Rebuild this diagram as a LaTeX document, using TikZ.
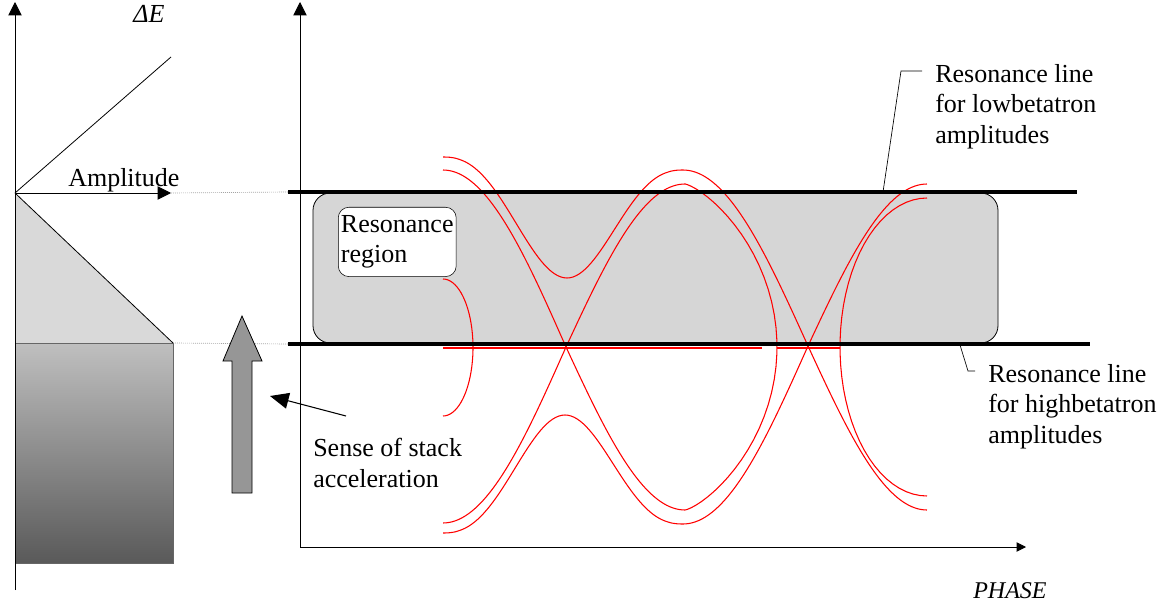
\documentclass[tikz,border=0pt]{standalone}
\usepackage{fontspec}
\setmainfont{Liberation Serif}
\usetikzlibrary{arrows.meta,positioning,calc}

\begin{document}
\begin{tikzpicture}[x=0.75pt,y=-0.75pt,
    font=\fontsize{19.5}{23}\selectfont,
    axis/.style={line width=0.7pt, -{Triangle[length=10pt,width=10pt]}},
    guide/.style={densely dotted, black!55, line width=0.5pt},
    resline/.style={line width=3pt},
    orbit/.style={red, line width=0.8pt},
    label/.style={align=left, inner sep=0pt, anchor=north west},
    regionbox/.style={draw, rounded corners=8pt, fill=white, align=left,
      inner xsep=2pt, minimum height=52pt, anchor=north west}]
  \useasboundingbox (0,0) rectangle (1175,606);

  % Energy side
  \coordinate (ampO) at (15,193);
  \coordinate (ampEnd) at (171,193);
  \coordinate (diagEnd) at (171,57);
  \coordinate (triB) at (173,343);
  \coordinate (triL) at (15,343);
  \coordinate (stackBot) at (173,563);
  \fill[black!15] (ampO) -- (triB) -- (triL) -- cycle;
  \shade[top color=black!25, bottom color=black!65] (triL) rectangle (stackBot);
  \draw[black!60, line width=0.6pt] (triL) rectangle (stackBot);
  \draw[line width=0.6pt] (ampO) -- (triB);
  \draw[line width=0.6pt] (ampO) -- (diagEnd);

  % Axes
  \coordinate (eBot) at (15,590);
  \coordinate (eTop) at (15,2);
  \coordinate (phO) at (300,547);
  \coordinate (phTop) at (300,2);
  \coordinate (phEnd) at (1026,547);
  \draw[axis] (eBot) -- (eTop);
  \draw[axis] (ampO) -- (ampEnd);
  \draw[axis] (phO) -- (phTop);
  \draw[line width=0.7pt, -{Triangle[length=7pt,width=7pt]}] (phO) -- (phEnd);

  % Resonance band
  \coordinate (bandNW) at (313,193);
  \coordinate (bandSE) at (998,343);
  \draw[fill=black!16, rounded corners=13pt, line width=0.6pt] (bandNW) rectangle (bandSE);
  \node[regionbox] (region) at (338,207) {Resonance\\region};

  % Orbits
  \begin{scope}[orbit, samples=40, variable=\t]
    \draw plot[domain=0:1] ({443+123*\t},{347-177*cos(90*\t)})
      -- plot[domain=0:1] ({566+119*\t},{347+163*sin(90*\t)})
      -- plot[domain=0:180] ({685+92*sin(\t)*sqrt(abs(sin(\t)))},{347+163*cos(\t)})
      -- plot[domain=0:1] ({685-119*\t},{347-163*cos(90*\t)})
      -- plot[domain=0:1] ({566-123*\t},{347+176*sin(90*\t)});
    \draw plot[domain=0.001:1] ({443+124*\t},{217.5-60.5*cos(180*\t^1.2)})
      -- plot[domain=0:0.999] ({567+116*\t},{224+54*cos(180*(1-(1-\t)^1.2))})
      -- plot[domain=0:1] ({683+125*\t},{346-176*cos(90*\t)})
      -- plot[domain=0:1] ({808+119*\t},{346+164*sin(90*\t)});
    \draw plot[domain=0.001:1] ({443+122*\t},{474+59*cos(180*\t^1.2)})
      -- plot[domain=0:0.999] ({565+118*\t},{469.5-54.5*cos(180*(1-(1-\t)^1.2))})
      -- plot[domain=0:1] ({683+125*\t},{346+178*cos(90*\t)})
      -- plot[domain=0:1] ({808+119*\t},{346-162*sin(90*\t)});
    \draw plot[domain=0:180] ({443+30*sin(\t)},{347.5-68.5*cos(\t)});
    \draw plot[domain=0:180] ({927-87*sin(\t)},{347-149*cos(\t)});
    \draw (443,348) -- (762,348);
    \draw (777,348) -- (840,348);
  \end{scope}

  % Resonance lines
  \coordinate (lowL) at (288,192);
  \coordinate (lowR) at (1077,192);
  \coordinate (highL) at (288,344);
  \coordinate (highR) at (1090,344);
  \draw[resline] (lowL) -- (lowR);
  \draw[resline] (highL) -- (highR);
  \draw[guide] (ampEnd) -- (lowL);
  \draw[guide] (triB) -- (highL);

  % Stack acceleration arrow
  \draw[fill=black!41, line width=0.6pt] (232,493) -- (232,361) -- (223,361)
    -- (242,316) -- (262,361) -- (252,361) -- (252,493) -- cycle;

  % Labels
  \node[anchor=base west, inner sep=0pt] (ampLbl) at (68,187) {Amplitude};
  \node[anchor=base west, inner sep=0pt] (deLbl) at (133,23) {\textit{ΔE}};
  \node[anchor=base west, inner sep=0pt, font=\fontsize{18}{22}\selectfont] (phLbl) at (973,598) {\textit{PHASE}};
  \node[label] (senseLbl) at (313,438) {Sense of stack\\acceleration};
  \node[label] (lowLbl) at (935,64) {Resonance line\\for lowbetatron\\amplitudes};
  \node[label] (highLbl) at (988,364) {Resonance line\\for highbetatron\\amplitudes};

  % Leaders
  \coordinate (senseTail) at (346,416);
  \coordinate (senseTip) at (270,396);
  \draw[line width=0.8pt, -{Triangle[length=14pt,width=12pt]}] (senseTail) -- (senseTip);
  \coordinate (lowTick) at (883,192);
  \coordinate (lowBend) at (901,71);
  \draw[line width=0.5pt] (lowTick) -- (lowBend) -- (lowBend -| 922,0);
  \coordinate (highTick) at (960,345);
  \coordinate (highBend) at (968,371);
  \draw[line width=0.5pt] (highTick) -- (highBend) -- (highBend -| 975,0);
\end{tikzpicture}
\end{document}
